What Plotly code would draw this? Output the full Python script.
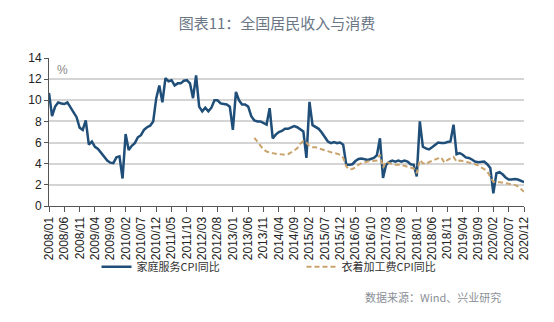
import plotly.graph_objects as go

# Monthly labels 2008/01 .. 2020/12
months = [f"{y}/{m:02d}" for y in range(2008, 2021) for m in range(1, 13)]

# 家庭服务CPI同比 (%)
household_cpi = [
    10.7, 8.5, 9.4, 9.8, 9.7, 9.65, 9.8, 9.3, 8.8, 8.4, 7.4, 7.2,        # 2008
    8.1, 5.8, 6.1, 5.6, 5.4, 5.0, 4.6, 4.3, 4.1, 4.05, 4.6, 4.7,         # 2009
    2.6, 6.8, 5.3, 5.7, 5.95, 6.5, 6.7, 7.2, 7.45, 7.6, 8.0, 10.2,       # 2010
    11.4, 9.8, 12.1, 11.8, 11.9, 11.4, 11.6, 11.6, 11.85, 11.9, 11.6, 10.2,  # 2011
    12.35, 9.4, 8.95, 9.3, 8.95, 9.3, 10.0, 10.0, 9.7, 9.65, 9.6, 9.4,   # 2012
    7.2, 10.8, 10.0, 9.6, 9.6, 9.4, 8.5, 8.1, 8.0, 8.0, 7.85, 7.7,       # 2013
    9.26, 6.4, 6.75, 7.0, 7.1, 7.3, 7.3, 7.4, 7.55, 7.45, 7.25, 7.05,    # 2014
    4.55, 9.85, 7.65, 7.5, 7.3, 6.95, 6.5, 6.1, 5.95, 6.05, 5.95, 6.0,   # 2015
    5.8, 3.9, 3.9, 3.95, 4.25, 4.45, 4.5, 4.4, 4.35, 4.45, 4.55, 4.8,    # 2016
    6.4, 2.65, 3.9, 4.15, 4.3, 4.2, 4.3, 4.2, 4.3, 4.2, 3.95, 3.9,       # 2017
    2.8, 8.0, 5.6, 5.45, 5.35, 5.55, 5.8, 6.0, 5.95, 5.95, 6.05, 6.1,    # 2018
    7.7, 4.9, 5.0, 4.85, 4.6, 4.55, 4.4, 4.2, 4.15, 4.2, 4.2, 3.95,      # 2019
    3.6, 1.2, 3.1, 3.2, 3.0, 2.7, 2.5, 2.5, 2.55, 2.5, 2.4, 2.25,        # 2020
]

# 衣着加工费CPI同比 (%), series begins 2013/08
tailoring_start = "2013/08"
tailoring_cpi = [
    6.45, 6.05, 5.65, 5.35, 5.15,                                        # 2013/08-12
    5.05, 5.0, 4.95, 4.9, 4.85, 4.85, 4.9, 5.05, 5.25, 5.45, 5.9, 6.15,  # 2014
    6.0, 5.65, 5.55, 5.55, 5.45, 5.35, 5.25, 5.2, 5.1, 5.0, 4.95, 4.85,  # 2015
    4.55, 3.75, 3.45, 3.5, 3.65, 3.9, 4.05, 4.15, 4.2, 4.25, 4.28, 4.3,  # 2016
    4.85, 3.65, 4.2, 4.05, 3.95, 3.9, 3.9, 3.9, 3.8, 3.7, 3.6, 3.55,     # 2017
    3.1, 4.35, 4.05, 3.95, 4.15, 4.3, 4.4, 4.5, 4.6, 4.1, 4.35, 4.5,     # 2018
    4.65, 4.2, 4.3, 4.25, 4.2, 4.15, 4.05, 3.95, 3.85, 3.65, 3.5, 3.25,  # 2019
    2.7, 2.3, 2.3, 2.25, 2.2, 2.15, 2.1, 2.05, 2.0, 1.85, 1.6, 1.35,     # 2020
]
tailoring_months = months[months.index(tailoring_start):]

tick_labels = months[::5]
y_ticks = [0, 2, 4, 6, 8, 10, 12, 14]

fig = go.Figure()
fig.add_trace(go.Scatter(
    x=months, y=household_cpi, mode="lines", name="家庭服务CPI同比",
    line=dict(color="#1F4E79", width=2.5),
))
fig.add_trace(go.Scatter(
    x=tailoring_months, y=tailoring_cpi, mode="lines", name="衣着加工费CPI同比",
    line=dict(color="#C9A36B", width=2, dash="5px,3px"),
))

fig.update_layout(
    width=554, height=322,
    margin=dict(l=49, r=30, t=58, b=116),
    paper_bgcolor="white", plot_bgcolor="white",
    font=dict(family="Liberation Sans, Arial, sans-serif", color="#333"),
    showlegend=True,
    legend=dict(
        orientation="h", x=0.1, y=-0.41, xanchor="left", yanchor="middle",
        font=dict(family="Noto Sans CJK SC", size=11, color="#333"),
        entrywidth=160, entrywidthmode="pixels", itemwidth=30,
        bgcolor="rgba(0,0,0,0)",
    ),
    title=dict(
        text="图表11：全国居民收入与消费",
        x=0.5, xref="container", xanchor="center",
        y=1 - 24 / 322, yref="container", yanchor="middle",
        font=dict(family="Noto Sans CJK SC", size=15, color="#6B7785"),
    ),
)

fig.update_xaxes(
    type="category", categoryorder="array", categoryarray=months,
    range=[0, len(months) - 1],
    tickmode="array", tickvals=tick_labels, ticktext=tick_labels,
    tickangle=-90, tickfont=dict(size=12, color="#222"),
    showgrid=False, showline=True, linecolor="#555", linewidth=1,
    ticks="outside", ticklen=5, tickcolor="#555",
)
fig.update_yaxes(
    range=[0, 14], tickvals=y_ticks,
    tickfont=dict(size=12, color="#222"),
    showgrid=True, gridcolor="#D5D5D5", gridwidth=1.5,
    showline=True, linecolor="#555", linewidth=1,
    ticks="outside", ticklen=4, tickcolor="#555",
    zeroline=False,
)

fig.add_annotation(
    text="%", xref="paper", yref="paper", x=0.012, y=0.92,
    xanchor="left", yanchor="middle", showarrow=False,
    font=dict(size=12, color="#888"),
)
fig.add_annotation(
    text="数据来源：Wind、兴业研究", xref="paper", yref="paper",
    x=0.956, y=-0.615, xanchor="right", yanchor="middle", showarrow=False,
    font=dict(family="Noto Sans CJK SC", size=11, color="#8A8F96"),
)

fig.write_html("out.html")
